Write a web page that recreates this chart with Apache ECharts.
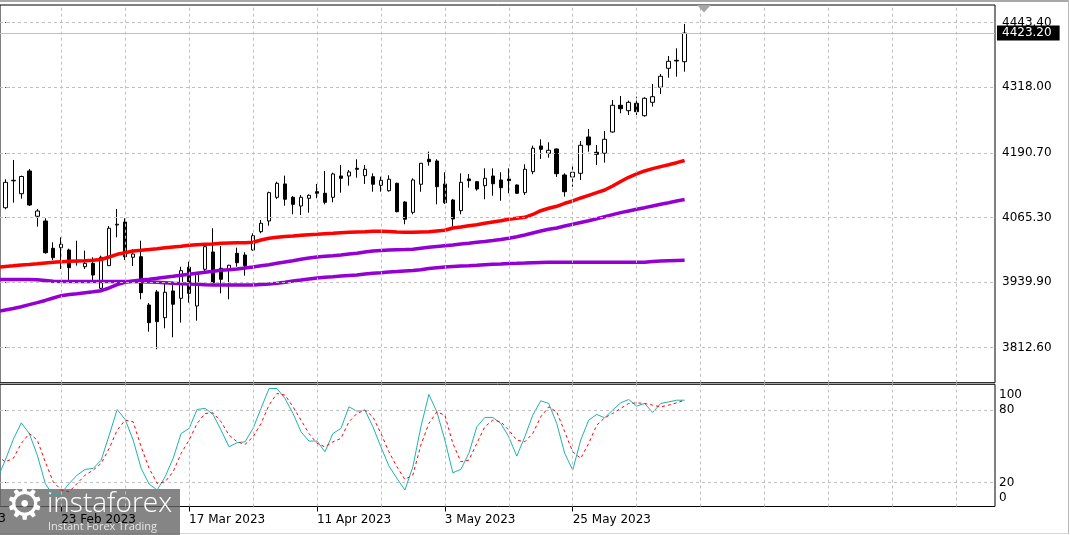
<!DOCTYPE html>
<html><head><meta charset="utf-8">
<script src="https://cdn.jsdelivr.net/npm/echarts@6/dist/echarts.min.js"></script>
<style>html,body{margin:0;padding:0;background:#fff;}#c{width:1070px;height:535px;}</style>
</head><body><div id="c"></div>
<script>
// ---- daily candles (bar index 0..85) ----
const opens = [4084.3,4136.5,4111.5,4155.6,4067.7,4058.5,4005.5,4006.7,4002.2,3980.9,
3969.8,3976.4,3927.9,3971.8,4050.8,4056.6,3988.1,3989.2,3895.5,3920.8,
3870.9,3922.7,3908.5,3968.7,3893.6,3964.8,3998.4,3966.8,3964.8,3995.8,
3992.5,4002.2,4037.8,4058.5,4104.5,4130.4,4104.5,4087.6,4102.6,4115.4,
4112.3,4104.5,4145.9,4145.9,4160.8,4146.5,4144.5,4127.8,4117.3,4131.7,
4095.4,4075.4,4129.8,4178.3,4175.0,4130.4,4099.3,4078.5,4140.1,4134.8,
4127.1,4145.9,4138.1,4140.1,4128.4,4113.5,4154.2,4204.1,4190.0,4198.3,
4147.8,4144.0,4151.1,4221.6,4191.9,4190.0,4231.3,4283.1,4272.6,4287.0,
4262.9,4288.9,4318.1,4354.9,4370.4,4367.7];
const highs = [4139.5,4176.9,4146.5,4159.4,4081.8,4063.8,4017.2,4026.9,4004.8,4020.3,
4000.9,3988.1,3991.2,4048.8,4081.8,4063.8,4003.6,4020.3,3899.4,3924.6,
3937.6,3940.7,3969.8,3979.5,3960.1,4010.0,4044.4,4010.0,3973.5,4006.7,
3997.8,4034.6,4060.5,4115.4,4134.8,4146.5,4107.0,4109.0,4110.3,4130.4,
4155.6,4152.3,4167.2,4157.5,4178.3,4167.2,4151.1,4144.5,4147.2,4132.9,
4096.8,4141.4,4171.2,4193.1,4178.3,4153.1,4101.3,4151.1,4149.8,4136.2,
4160.8,4160.8,4153.1,4160.8,4129.4,4168.6,4204.7,4217.1,4211.3,4199.2,
4151.1,4167.2,4213.8,4237.1,4206.1,4233.2,4293.4,4301.2,4292.1,4299.8,
4298.7,4324.5,4343.9,4378.8,4393.7,4440.9];
const lows = [4081.2,4094.0,4101.8,4087.6,4047.5,3995.1,3982.8,3965.4,3944.0,3971.8,
3965.4,3944.0,3926.5,3971.2,4026.9,3982.8,3971.2,3906.6,3843.7,3809.5,
3850.3,3832.8,3861.2,3900.0,3865.0,3961.5,3937.5,3918.2,3906.6,3969.8,
3952.4,4000.9,4034.6,4049.4,4101.3,4088.2,4071.5,4070.2,4074.6,4102.6,
4090.9,4094.8,4113.5,4127.1,4142.6,4130.4,4115.4,4115.4,4115.4,4075.4,
4052.2,4071.5,4115.4,4165.9,4090.9,4091.6,4047.5,4071.5,4123.2,4117.3,
4100.7,4107.6,4097.9,4112.3,4111.0,4109.0,4149.2,4178.9,4181.4,4144.0,
4105.7,4125.1,4138.1,4193.1,4167.2,4171.7,4229.9,4267.6,4264.3,4264.3,
4261.0,4280.4,4305.0,4336.7,4338.6,4348.3];
const closes = [4133.6,4137.5,4144.9,4089.6,4077.9,3997.0,3987.3,4013.3,3967.9,3979.0,
3976.4,3953.7,3988.1,4044.4,4052.2,3989.2,3994.5,3919.4,3861.2,3863.1,
3920.2,3896.9,3962.1,3918.2,3955.7,4008.7,3938.8,3945.4,3972.6,3977.6,
3971.8,4030.0,4054.1,4113.5,4131.7,4100.7,4090.9,4104.5,4108.4,4112.3,
4094.8,4149.8,4141.4,4153.7,4158.9,4158.9,4129.8,4137.5,4139.5,4076.6,
4061.9,4138.1,4170.5,4173.6,4125.1,4094.0,4062.4,4133.6,4136.8,4120.6,
4141.4,4130.9,4123.2,4136.8,4112.3,4158.9,4199.7,4197.7,4195.8,4150.4,
4115.4,4153.1,4205.5,4206.1,4188.0,4217.1,4283.1,4276.5,4288.9,4270.7,
4296.7,4299.8,4339.4,4368.5,4369.1,4423.2];

// ---- indicator lines (bar index -1..85) ----
const maRed = [3968.8,
3970.2,3971.6,3973.1,3974.1,3975.4,3977.0,3978.4,3979.5,3980.3,3980.9,
3981.5,3982.3,3983.8,3988.7,3993.9,3997.0,4000.3,4001.7,4003.2,4004.8,
4006.7,4008.1,4009.5,4011.4,4012.6,4013.3,4013.9,4015.3,4015.9,4016.4,
4016.4,4017.2,4021.7,4025.0,4026.9,4028.5,4029.4,4030.8,4032.0,4032.7,
4033.9,4034.7,4035.9,4036.6,4037.2,4037.8,4038.5,4038.5,4038.0,4037.2,
4036.6,4036.6,4037.2,4037.8,4039.2,4040.5,4045.0,4046.9,4049.4,4051.4,
4054.1,4056.6,4059.1,4061.9,4063.8,4065.7,4071.2,4078.5,4083.2,4087.1,
4092.9,4097.4,4103.2,4108.4,4113.5,4118.7,4126.5,4135.2,4143.4,4149.8,
4155.6,4160.1,4164.0,4167.8,4171.7,4176.0];
const maPurpleFast = [3882.9,
3885.8,3888.7,3892.2,3896.1,3900.0,3904.3,3909.1,3913.6,3915.9,3917.5,
3919.4,3921.3,3923.3,3928.5,3934.9,3939.6,3942.1,3944.0,3945.4,3947.3,
3949.3,3951.2,3953.2,3955.1,3957.0,3959.0,3960.9,3962.9,3964.0,3965.4,
3967.3,3969.3,3971.8,3973.7,3976.5,3979.0,3981.5,3984.2,3986.7,3988.7,
3990.0,3991.2,3992.6,3994.5,3995.9,3998.4,4000.3,4001.3,4002.3,4002.9,
4003.2,4003.6,4005.6,4007.5,4009.1,4010.6,4012.0,4013.9,4015.3,4017.2,
4018.8,4020.7,4022.7,4025.0,4028.1,4031.4,4035.3,4039.2,4042.5,4045.0,
4048.9,4052.2,4055.7,4059.1,4063.0,4066.9,4070.8,4074.7,4078.0,4081.3,
4084.4,4087.7,4091.0,4094.1,4097.4,4100.3];
const maPurpleSlow = [3945.0,
3945.0,3945.0,3945.0,3945.0,3944.6,3943.1,3941.5,3941.1,3941.1,3941.1,
3941.1,3941.1,3941.1,3941.1,3941.1,3941.1,3941.1,3940.8,3940.2,3939.6,
3938.8,3937.6,3936.9,3936.3,3935.7,3934.9,3934.3,3934.3,3934.3,3934.3,
3934.3,3934.3,3935.3,3936.3,3937.6,3939.6,3942.1,3944.0,3946.0,3947.9,
3949.3,3950.5,3951.8,3952.8,3953.8,3955.7,3957.0,3958.2,3959.6,3960.5,
3961.5,3962.5,3964.0,3966.4,3967.9,3969.3,3970.3,3971.2,3971.8,3972.6,
3973.7,3974.5,3975.1,3976.1,3976.5,3977.0,3977.6,3978.0,3978.4,3978.4,
3978.4,3978.4,3978.4,3978.4,3978.4,3978.4,3978.4,3978.4,3978.4,3978.4,
3978.6,3980.0,3980.9,3981.5,3981.9,3982.3];
const stochK = [23,
38.5,55.7,69.4,60.6,42.7,19.2,8.7,10.9,19.2,26.1,
30.8,31.6,38.5,59.2,80.5,72.2,55.1,31.6,18.6,13.7,
24.7,39.9,60.6,64.8,80.5,81.4,76.4,63.4,49.5,52.9,
53.7,64.8,81.4,97.9,97.9,89.6,77.2,62.0,54.3,54.3,
45.4,60.6,64.8,82.7,79.1,80.0,66.1,49.5,33.6,23.4,
13.7,33.0,66.1,93.0,78.5,55.1,28.0,30.8,44.1,66.1,
73.9,73.9,68.9,57.8,41.8,57.8,75.8,87.7,85.5,68.9,
44.1,30.2,55.1,71.7,76.4,73.6,80.0,86.0,88.8,83.3,
85.5,78.0,85.5,86.8,88.2,88.2];
const stochD = [42,
37.1,39.9,52.4,60.6,55.1,37.1,20.5,13.7,12.3,19.2,
26.1,30.2,35.8,48.2,63.4,71.7,70.3,49.5,31.6,19.2,
20.5,28.8,44.1,55.1,68.9,77.2,77.7,70.3,59.2,53.7,
51.5,57.8,68.9,84.1,93.8,92.4,82.7,71.7,60.6,52.4,
49.5,53.7,56.5,70.3,77.2,80.0,74.4,60.6,45.4,33.0,
22.5,26.1,51.0,68.9,78.5,75.8,52.4,37.1,38.5,52.4,
66.1,71.7,70.3,63.4,55.1,53.7,60.6,74.4,82.7,78.5,
62.0,45.4,39.9,52.4,67.5,73.6,77.2,81.4,85.5,86.0,
85.5,84.1,82.7,84.1,86.0,88.2];

// ---- axis ticks / labels ----
const priceTicks = [3812.6, 3939.9, 4065.3, 4190.7, 4318.0, 4443.4];
const oscTicks = [0, 20, 80, 100];
const oscLevels = [20, 80];
const dateLabels = ['31 Jan 2023', '23 Feb 2023', '17 Mar 2023', '11 Apr 2023', '3 May 2023', '25 May 2023'];
const dateLabelIdx = [-9, 7, 23, 39, 55, 71];
const lastPrice = 4423.20;

const FONT = 'DejaVu Sans';
const X_MIN = -0.6625, X_MAX = 123.8375;
const gridIdx = [];
for (let i = 7; i < X_MAX; i += 8) gridIdx.push(i);

const candleData = opens.map((o, i) => [i, o, closes[i], lows[i], highs[i]]);
const lineData = arr => arr.map((v, i) => [i - 1, v]);
const gridLineStyle = { color: '#c0c0c0', type: [3, 3], width: 1 };

const chart = echarts.init(document.getElementById('c'), null, { renderer: 'canvas' });
chart.setOption({
  animation: false,
  backgroundColor: '#ffffff',
  grid: [
    { left: -1, right: 75, top: 5, height: 377.7, show: true, borderColor: '#000', borderWidth: 1, backgroundColor: 'transparent' },
    { left: -1, right: 75, top: 384.3, height: 122.2, show: true, borderColor: '#000', borderWidth: 1, backgroundColor: 'transparent' }
  ],
  xAxis: [
    { type: 'value', gridIndex: 0, min: X_MIN, max: X_MAX, axisLine: { show: false }, axisTick: { show: false }, axisLabel: { show: false }, splitLine: { show: false } },
    { type: 'value', gridIndex: 1, min: X_MIN, max: X_MAX, axisLine: { show: false },
      axisTick: { show: true, customValues: dateLabelIdx, length: 5, lineStyle: { color: '#000' } },
      axisLabel: { show: true, customValues: dateLabelIdx, formatter: v => dateLabels[dateLabelIdx.indexOf(v)] || '',
        align: 'left', margin: 7, color: '#000', fontFamily: FONT, fontSize: 12 },
      splitLine: { show: false } }
  ],
  yAxis: [
    { type: 'value', gridIndex: 0, position: 'right', min: 3744.66, max: 4477.76,
      axisLine: { show: false },
      axisTick: { show: true, customValues: priceTicks, length: 4, lineStyle: { color: '#000' } },
      axisLabel: { customValues: priceTicks, formatter: v => v.toFixed(2), margin: 7, color: '#000', fontFamily: FONT, fontSize: 12,
        showMinLabel: true, showMaxLabel: true },
      splitLine: { show: false } },
    { type: 'value', gridIndex: 1, position: 'right', min: 0, max: 101.4,
      axisLine: { show: false },
      axisTick: { show: true, customValues: oscLevels, length: 3, lineStyle: { color: '#000' } },
      axisLabel: { customValues: oscTicks, formatter: v => v === 100 ? '\n100' : (v === 0 ? '0\n' : '{s|' + v + '}'),
        lineHeight: 17, margin: 4, color: '#000', fontFamily: FONT, fontSize: 12,
        rich: { s: { lineHeight: 12, fontFamily: FONT, fontSize: 12, color: '#000' } },
        showMinLabel: true, showMaxLabel: true, hideOverlap: false },
      splitLine: { show: false } }
  ],
  series: [
    { type: 'line', xAxisIndex: 0, yAxisIndex: 0, data: [], z: 1, silent: true,
      markLine: { silent: true, symbol: 'none', animation: false, label: { show: false }, lineStyle: gridLineStyle,
        data: gridIdx.map(v => ({ xAxis: v })).concat(priceTicks.map(v => ({ yAxis: v }))) } },
    { type: 'line', xAxisIndex: 1, yAxisIndex: 1, data: [], z: 1, silent: true,
      markLine: { silent: true, symbol: 'none', animation: false, label: { show: false }, lineStyle: gridLineStyle,
        data: gridIdx.map(v => ({ xAxis: v })).concat(oscLevels.map(v => ({ yAxis: v }))) } },
    { type: 'candlestick', xAxisIndex: 0, yAxisIndex: 0, data: candleData, z: 3, barWidth: 4,
      itemStyle: { color: '#ffffff', color0: '#000000', borderColor: '#000000', borderColor0: '#000000', borderWidth: 1 },
      markLine: { silent: true, symbol: 'none', animation: false, data: [{ yAxis: lastPrice }],
        lineStyle: { color: '#c0c0c0', type: 'solid', width: 1 },
        label: { show: true, position: 'end', distance: 2, formatter: lastPrice.toFixed(2), color: '#fff', backgroundColor: '#000',
          padding: [2, 8, 1, 5], fontFamily: FONT, fontSize: 12 } } },
    { type: 'line', xAxisIndex: 0, yAxisIndex: 0, data: lineData(maPurpleSlow), showSymbol: false, z: 4, silent: true,
      lineStyle: { color: '#9400D3', width: 3.5 } },
    { type: 'line', xAxisIndex: 0, yAxisIndex: 0, data: lineData(maPurpleFast), showSymbol: false, z: 4, silent: true,
      lineStyle: { color: '#9400D3', width: 3.5 } },
    { type: 'line', xAxisIndex: 0, yAxisIndex: 0, data: lineData(maRed), showSymbol: false, z: 4, silent: true,
      lineStyle: { color: '#FF0000', width: 3.5 } },
    { type: 'line', xAxisIndex: 1, yAxisIndex: 1, data: lineData(stochK), showSymbol: false, z: 4, silent: true,
      lineStyle: { color: '#20B2AA', width: 1 } },
    { type: 'line', xAxisIndex: 1, yAxisIndex: 1, data: lineData(stochD), showSymbol: false, z: 5, silent: true,
      lineStyle: { color: '#FF0000', width: 1, type: [3, 3] } }
  ],
  graphic: [
    { type: 'rect', shape: { x: 0, y: 0, width: 1068, height: 2 }, style: { fill: '#a8a8a8' }, silent: true },
    { type: 'rect', shape: { x: 1068, y: 0, width: 1, height: 534 }, style: { fill: '#b8b8b8' }, silent: true },
    { type: 'rect', shape: { x: 0, y: 533, width: 1068, height: 1 }, style: { fill: '#d8d8d8' }, silent: true },
    { type: 'polygon', shape: { points: [[697, 5], [711, 5], [704, 12.5]] }, style: { fill: '#a6a6a6' }, z: 10, silent: true },
    { type: 'text', x: -66, y: 513, style: { text: dateLabels[0], fontFamily: FONT, fontSize: 12, fill: '#000' }, z: 5, silent: true },
    { type: 'group', z: 100, silent: true, children: [
      { type: 'rect', shape: { x: 0, y: 489, width: 180, height: 46 }, style: { fill: 'rgba(99,99,99,0.78)' } },
      { type: 'text', x: 5, y: 486, style: { text: '⚙', fontFamily: FONT, fontSize: 44, fill: '#ffffff' } },
      { type: 'text', x: 47, y: 490, style: { text: 'instaforex', fontFamily: 'Open Sans', fontWeight: 300, fontSize: 28, fill: '#ffffff' } },
      { type: 'text', x: 48, y: 521, style: { text: 'Instant Forex Trading', fontFamily: 'Open Sans', fontSize: 11, fill: '#e6e6e6' } }
    ] }
  ]
});
</script>
</body></html>
